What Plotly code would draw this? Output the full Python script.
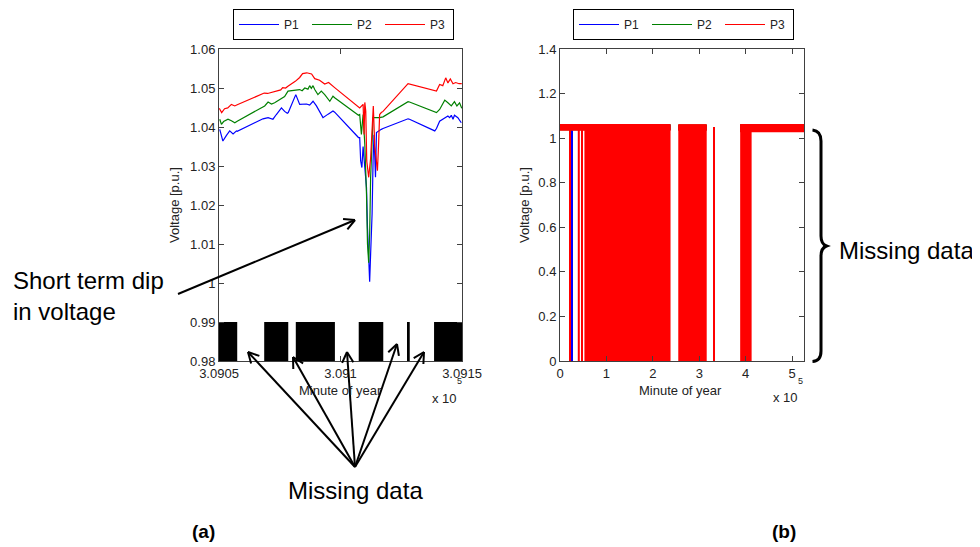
import math
import plotly.graph_objects as go

# ---------------- panel (a): zoomed voltage record ----------------
a_p1_min = [309050.3, 309051.6, 309053.0, 309054.4, 309055.8, 309057.2, 309057.5,
            309068.1, 309070.2, 309072.2, 309073.6, 309075.7, 309077.0, 309078.1, 309078.5,
            309081.6, 309083.2, 309086.0, 309087.3, 309088.7, 309090.1, 309092.8, 309094.9, 309096.9, 309097.6,
            309107.4, 309107.9, 309108.3, 309108.8, 309109.3, 309110.0, 309110.7, 309111.1, 309111.6, 309112.0,
            309112.4, 309113.0, 309113.4, 309113.8, 309114.4, 309114.8, 309116.8, 309117.5,
            309127.8, 309128.4,
            309138.8, 309139.5, 309140.8, 309142.2, 309144.2, 309144.9, 309145.6, 309146.3, 309146.9, 309148.3, 309149.7]
a_p1 = [1.0394, 1.0364, 1.0378, 1.0390, 1.0382, 1.0390, 1.0389,
        1.0421, 1.0424, 1.0420, 1.0432, 1.0449, 1.0440, 1.0435, 1.0437,
        1.0483, 1.0458, 1.0459, 1.0456, 1.0466, 1.0454, 1.0424, 1.0433, 1.0441, 1.0438,
        1.0373, 1.0373, 1.0313, 1.0296, 1.0350, 1.0296, 1.0245, 1.0143, 1.0058, 1.0003,
        1.0075, 1.0177, 1.0313, 1.0380, 1.0271, 1.0386, 1.0394, 1.0396,
        1.0421, 1.0420,
        1.0390, 1.0396, 1.0415, 1.0420, 1.0428, 1.0424, 1.0430, 1.0420, 1.0430, 1.0424, 1.0411]

a_p2_min = [309050.3, 309051.0, 309051.9, 309053.7, 309055.1, 309056.5, 309057.5,
            309068.8, 309070.2, 309071.6, 309072.9, 309075.0, 309075.7, 309077.0, 309078.4,
            309081.4, 309083.2, 309084.2, 309085.3, 309086.6, 309087.3, 309088.0, 309088.7, 309089.4, 309090.7,
            309092.1, 309093.5, 309095.6, 309096.9, 309097.6,
            309107.4, 309107.9, 309108.6, 309109.3, 309110.0, 309110.7, 309111.1, 309111.6, 309112.0, 309112.4,
            309113.0, 309113.4, 309114.8, 309116.1, 309117.5,
            309127.8, 309128.4,
            309139.5, 309140.8, 309142.9, 309144.2, 309145.6, 309146.9, 309147.9, 309149.0, 309149.9]
a_p2 = [1.0420, 1.0407, 1.0414, 1.0420, 1.0416, 1.0411, 1.0415,
        1.0454, 1.0464, 1.0459, 1.0462, 1.0471, 1.0474, 1.0478, 1.0492,
        1.0494, 1.0496, 1.0493, 1.0500, 1.0497, 1.0506, 1.0499, 1.0506, 1.0496, 1.0483,
        1.0492, 1.0483, 1.0466, 1.0479, 1.0475,
        1.0430, 1.0432, 1.0381, 1.0432, 1.0356, 1.0228, 1.0101, 1.0052, 1.0126, 1.0271,
        1.0381, 1.0424, 1.0424, 1.0424, 1.0426,
        1.0465, 1.0464,
        1.0437, 1.0445, 1.0469, 1.0462, 1.0454, 1.0465, 1.0454, 1.0462, 1.0448]

a_p3_min = [309050.1, 309051.1, 309052.3, 309053.6, 309055.1, 309056.5, 309057.5,
            309068.6, 309070.0, 309072.9, 309075.4, 309076.2, 309077.4, 309078.5,
            309081.4, 309083.2, 309084.4, 309086.1, 309088.1, 309089.4, 309091.4, 309093.5, 309095.1, 309097.6,
            309107.4, 309107.9, 309109.3, 309109.7, 309110.0, 309110.4, 309110.8, 309111.6, 309112.4, 309113.0,
            309113.5, 309114.1, 309114.8, 309115.2, 309115.7, 309116.1, 309116.8, 309117.5,
            309127.8, 309128.4,
            309139.5, 309140.8, 309142.1, 309143.3, 309144.2, 309145.2, 309146.3, 309147.4, 309148.8, 309149.9]
a_p3 = [1.0448, 1.0437, 1.0447, 1.0449, 1.0458, 1.0454, 1.0457,
        1.0487, 1.0486, 1.0491, 1.0495, 1.0501, 1.0500, 1.0505,
        1.0517, 1.0527, 1.0537, 1.0539, 1.0536, 1.0524, 1.0520, 1.0510, 1.0514, 1.0501,
        1.0451, 1.0449, 1.0458, 1.0381, 1.0463, 1.0440, 1.0313, 1.0271, 1.0320, 1.0400,
        1.0454, 1.0350, 1.0296, 1.0288, 1.0360, 1.0432, 1.0437, 1.0440,
        1.0511, 1.0510,
        1.0492, 1.0509, 1.0506, 1.0526, 1.0513, 1.0523, 1.0511, 1.0514, 1.0511, 1.0511]

# intervals where data is present (black blocks between 0.98 and 0.99)
a_present_start = [309050.0, 309068.6, 309081.6, 309107.5, 309127.7, 309138.5]
a_present_end = [309057.5, 309078.5, 309097.7, 309117.6, 309128.5, 309150.0]
a_present_low = 0.98
a_present_high = 0.99

a_xticks = [309050, 309100, 309150]
a_xticklabels = ["3.0905", "3.091", "3.0915"]
a_yticks = [0.98, 0.99, 1.00, 1.01, 1.02, 1.03, 1.04, 1.05, 1.06]
a_yticklabels = ["0.98", "0.99", "1", "1.01", "1.02", "1.03", "1.04", "1.05", "1.06"]

# ---------------- panel (b): whole year ----------------
b_p3_band_start = [0, 254760, 388100]
b_p3_band_end = [238100, 316020, 525600]
b_p3_band_low = [1.033, 1.033, 1.026]
b_p3_band_high = [1.064, 1.063, 1.064]

b_p3_drop_start = [20130, 38310, 45450, 52600, 254760, 330520, 388100]
b_p3_drop_end = [23160, 42640, 49130, 238100, 316020, 332690, 412770]
b_p3_drop_top = [1.055, 1.055, 1.055, 1.057, 1.058, 1.050, 1.060]

b_p2_drop_start = [24000]
b_p2_drop_end = [25400]
b_p2_drop_top = [1.04]

b_p1_drop_start = [25400]
b_p1_drop_end = [27600]
b_p1_drop_top = [1.035]

b_xticks = [0, 100000, 200000, 300000, 400000, 500000]
b_xticklabels = ["0", "1", "2", "3", "4", "5"]
b_yticks = [0, 0.2, 0.4, 0.6, 0.8, 1.0, 1.2, 1.4]
b_yticklabels = ["0", "0.2", "0.4", "0.6", "0.8", "1", "1.2", "1.4"]

# ---------------- styling ----------------
OFF = 8                      # page body margin
W, H = 980 - OFF, 547 - OFF
FONT = "Liberation Sans, Arial, sans-serif"
C1, C2, C3 = "#0000ff", "#008000", "#ff0000"
AXC = "#404040"
TXT = "#222222"


def fx(p):
    return (p - OFF) / W


def fy(p):
    return 1 - (p - OFF) / H


fig = go.Figure()

for name, xs, ys, col in [("P1", a_p1_min, a_p1, C1), ("P2", a_p2_min, a_p2, C2), ("P3", a_p3_min, a_p3, C3)]:
    fig.add_trace(go.Scatter(x=xs, y=ys, mode="lines", name=name, line=dict(color=col, width=1.2),
                             legend="legend", xaxis="x", yaxis="y"))

fig.add_trace(go.Bar(
    x=[(s + e) / 2 for s, e in zip(a_present_start, a_present_end)],
    width=[e - s for s, e in zip(a_present_start, a_present_end)],
    base=[a_present_low] * len(a_present_start),
    y=[a_present_high - a_present_low] * len(a_present_start),
    marker=dict(color="black", line=dict(width=0)), showlegend=False, xaxis="x", yaxis="y"))


def interval_bars(starts, ends, lows, highs, col):
    return go.Bar(
        x=[(s + e) / 2 for s, e in zip(starts, ends)],
        width=[e - s for s, e in zip(starts, ends)],
        base=lows,
        y=[h - l for l, h in zip(lows, highs)],
        marker=dict(color=col, line=dict(width=0)), showlegend=False, xaxis="x2", yaxis="y2")


# P1/P2 normal-data bands lie under the P3 band
fig.add_trace(interval_bars(b_p3_band_start, b_p3_band_end,
                            [v + 0.003 for v in b_p3_band_low], [v - 0.004 for v in b_p3_band_high], C1))
fig.add_trace(interval_bars(b_p3_band_start, b_p3_band_end,
                            [v + 0.002 for v in b_p3_band_low], [v - 0.002 for v in b_p3_band_high], C2))
fig.add_trace(interval_bars(b_p2_drop_start, b_p2_drop_end, [0] * len(b_p2_drop_start), b_p2_drop_top, C2))
fig.add_trace(interval_bars(b_p1_drop_start, b_p1_drop_end, [0] * len(b_p1_drop_start), b_p1_drop_top, C1))
fig.add_trace(interval_bars(b_p3_band_start, b_p3_band_end, b_p3_band_low, b_p3_band_high, C3))
fig.add_trace(interval_bars(b_p3_drop_start, b_p3_drop_end, [0] * len(b_p3_drop_start), b_p3_drop_top, C3))

for name, col in [("P1", C1), ("P2", C2), ("P3", C3)]:
    fig.add_trace(go.Scatter(x=[None], y=[None], mode="lines", name=name, line=dict(color=col, width=1.2),
                             legend="legend2", xaxis="x2", yaxis="y2"))

axis_common = dict(showline=True, linecolor=AXC, linewidth=1, mirror="ticks", ticks="inside", ticklen=5,
                   tickcolor=AXC, showgrid=False, zeroline=False, automargin=False,
                   tickfont=dict(family=FONT, size=13, color=TXT))

legend_common = dict(orientation="h", xanchor="left", yanchor="top", bordercolor="black", borderwidth=1,
                     bgcolor="white", font=dict(family=FONT, size=12, color=TXT), entrywidth=18,
                     entrywidthmode="pixels", itemwidth=40, tracegroupgap=0)

shapes = []


def arrow(tail, head, arm=12, ang=28):
    tx, ty = tail
    hx, hy = head
    shapes.append(dict(type="line", xref="paper", yref="paper", x0=fx(tx), y0=fy(ty), x1=fx(hx), y1=fy(hy),
                       line=dict(color="black", width=2)))
    th = math.atan2(ty - hy, tx - hx)
    for s in (-1, 1):
        a = th + s * math.radians(ang)
        shapes.append(dict(type="line", xref="paper", yref="paper", x0=fx(hx), y0=fy(hy),
                           x1=fx(hx + arm * math.cos(a)), y1=fy(hy + arm * math.sin(a)),
                           line=dict(color="black", width=2)))


arrow((178, 294), (355, 220))
for head in [(248, 352), (293, 357), (347, 352), (397, 344), (424, 352)]:
    arrow((355, 467), head)

# brace
bp = [(812.5, 130), (821, 131), (821, 141), (821, 236), (821, 244), (826.5, 246), (821, 248), (821, 256),
      (821, 351), (821, 361), (812.5, 361.5)]
p = [(fx(a), fy(b)) for a, b in bp]
path = ("M {0[0]},{0[1]} Q {1[0]},{1[1]} {2[0]},{2[1]} L {3[0]},{3[1]} Q {4[0]},{4[1]} {5[0]},{5[1]} "
        "Q {6[0]},{6[1]} {7[0]},{7[1]} L {8[0]},{8[1]} Q {9[0]},{9[1]} {10[0]},{10[1]}").format(*p)
shapes.append(dict(type="path", xref="paper", yref="paper", path=path, line=dict(color="black", width=3)))

annotations = []


def note(x, y, text, size, xa="center", ya="middle", **kw):
    d = dict(xref="paper", yref="paper", x=fx(x), y=fy(y), text=text, showarrow=False,
             xanchor=xa, yanchor=ya,
             font=dict(family=FONT, size=size, color=kw.pop("color", "black")))
    d.update(kw)
    annotations.append(d)


note(174, 205, "Voltage [p.u.]", 13, textangle=-90, color=TXT)
note(524, 205, "Voltage [p.u.]", 13, textangle=-90, color=TXT)
note(340, 390, "Minute of year", 13, color=TXT)
note(680, 390, "Minute of year", 13, color=TXT)
note(444, 398, "x 10", 13, color=TXT)
note(459, 381, "5", 9, color=TXT)
note(785, 397, "x 10", 13, color=TXT)
note(800, 381, "5", 9, color=TXT)
note(11, 296, "Short term dip<br>in voltage", 24, xa="left", align="left")
note(355, 490, "Missing data", 24)
note(837, 250, "Missing data", 24, xa="left")
note(203, 531, "<b>(a)</b>", 19)
note(784, 531, "<b>(b)</b>", 19)

fig.update_layout(
    width=W, height=H, template="none", paper_bgcolor="white", plot_bgcolor="white",
    margin=dict(l=0, r=0, t=0, b=0), barmode="overlay", showlegend=True,
    font=dict(family=FONT, color=TXT),
    xaxis=dict(domain=[fx(219), fx(462)], range=[309050, 309150], tickvals=a_xticks, ticktext=a_xticklabels,
               anchor="y", **axis_common),
    yaxis=dict(domain=[fy(361), fy(49)], range=[0.98, 1.06], tickvals=a_yticks, ticktext=a_yticklabels,
               anchor="x", **axis_common),
    xaxis2=dict(domain=[fx(560), fx(804)], range=[0, 525600], tickvals=b_xticks, ticktext=b_xticklabels,
                anchor="y2", **axis_common),
    yaxis2=dict(domain=[fy(361), fy(49)], range=[0, 1.4], tickvals=b_yticks, ticktext=b_yticklabels,
                anchor="x2", **axis_common),
    legend=dict(x=fx(233), y=fy(9), **legend_common),
    legend2=dict(x=fx(573), y=fy(9), **legend_common),
    shapes=shapes, annotations=annotations,
)

fig.write_html("out.html")
